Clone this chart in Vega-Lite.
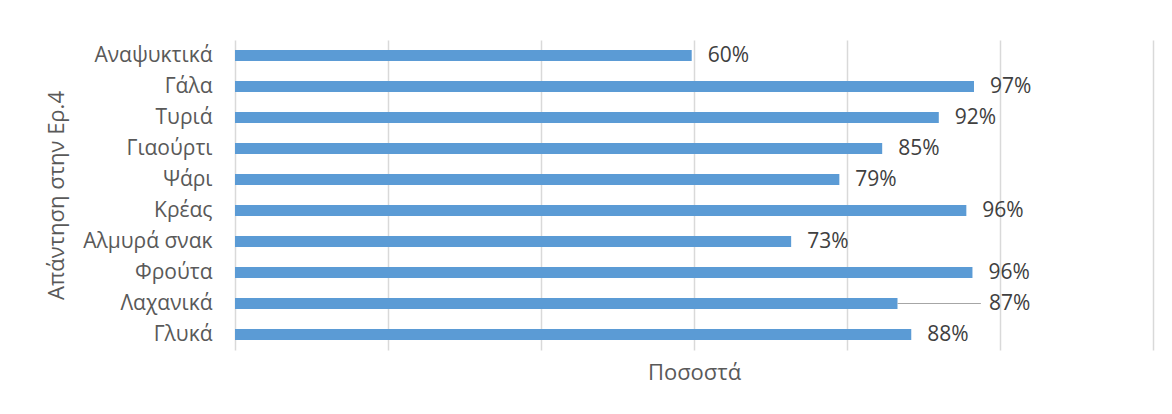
{
  "$schema": "https://vega.github.io/schema/vega-lite/v6.json",
  "autosize": {"type": "none"},
  "width": 918,
  "height": 310,
  "padding": {"left": 235, "top": 40, "right": 19, "bottom": 64},
  "background": "white",
  "config": {
    "view": {"stroke": null},
    "font": "Open Sans"
  },
  "data": {
    "values": [
      {"category": "Αναψυκτικά", "value": 0.597},
      {"category": "Γάλα", "value": 0.966},
      {"category": "Τυριά", "value": 0.92},
      {"category": "Γιαούρτι", "value": 0.846},
      {"category": "Ψάρι ", "value": 0.79},
      {"category": "Κρέας", "value": 0.956},
      {"category": "Αλμυρά σνακ", "value": 0.727},
      {"category": "Φρούτα", "value": 0.964},
      {"category": "Λαχανικά", "value": 0.866},
      {"category": "Γλυκά", "value": 0.884}
    ]
  },
  "encoding": {
    "y": {
      "field": "category",
      "type": "nominal",
      "sort": null,
      "scale": {"paddingInner": 0, "paddingOuter": 0},
      "axis": {
        "title": "Απάντηση στην Ερ.4",
        "titleFontSize": 22,
        "titleFontWeight": "normal",
        "titleColor": "#595959",
        "titlePadding": 14,
        "labelFontSize": 21,
        "labelColor": "#595959",
        "labelPadding": 23,
        "ticks": false,
        "domain": false,
        "grid": false
      }
    }
  },
  "layer": [
    {
      "mark": {"type": "bar", "color": "#5b9bd5", "size": 11},
      "encoding": {
        "x": {
          "field": "value",
          "type": "quantitative",
          "scale": {"domain": [0, 1.2], "nice": false},
          "axis": {
            "title": "Ποσοστά",
            "titleFontSize": 22,
            "titleFontWeight": "normal",
            "titleColor": "#595959",
            "titlePadding": 12,
            "labels": false,
            "ticks": false,
            "domain": false,
            "grid": true,
            "gridColor": "#d9d9d9",
            "gridWidth": 1.5,
            "values": [0, 0.2, 0.4, 0.6, 0.8, 1.0, 1.2]
          }
        }
      }
    },
    {
      "transform": [{"filter": "datum.category !== 'Λαχανικά'"}],
      "mark": {"type": "text", "align": "left", "baseline": "middle", "dx": 16, "fontSize": 21, "color": "#404040"},
      "encoding": {
        "x": {"field": "value", "type": "quantitative"},
        "text": {"field": "value", "type": "quantitative", "format": ".0%"}
      }
    },
    {
      "transform": [{"filter": "datum.category === 'Λαχανικά'"}],
      "mark": {"type": "rule", "color": "#a6a6a6", "strokeWidth": 1},
      "encoding": {
        "x": {"field": "value", "type": "quantitative"},
        "x2": {"datum": 0.975}
      }
    },
    {
      "transform": [{"filter": "datum.category === 'Λαχανικά'"}],
      "mark": {"type": "text", "align": "left", "baseline": "middle", "dx": 8, "fontSize": 21, "color": "#404040"},
      "encoding": {
        "x": {"datum": 0.975, "type": "quantitative"},
        "text": {"field": "value", "type": "quantitative", "format": ".0%"}
      }
    }
  ]
}
